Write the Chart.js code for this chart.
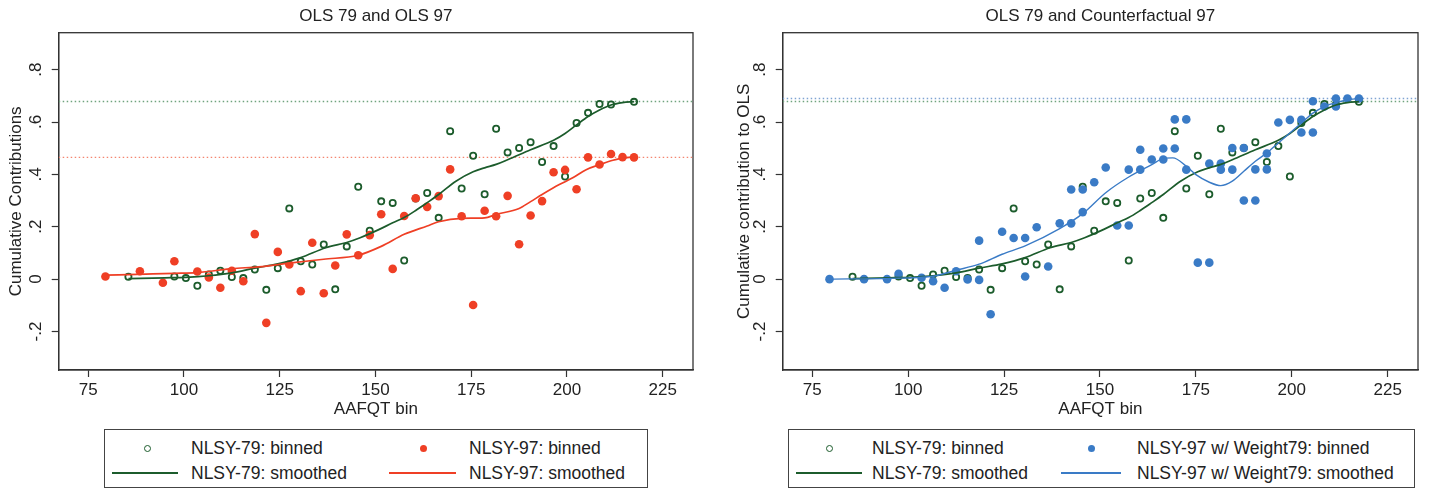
<!DOCTYPE html>
<html>
<head>
<meta charset="utf-8">
<script src="https://cdn.jsdelivr.net/npm/chart.js@4.4.1/dist/chart.umd.min.js"></script>
<style>
  html, body { margin: 0; padding: 0; background: #fff; }
  body { width: 1429px; height: 492px; position: relative; overflow: hidden;
         font-family: "Liberation Sans", Arial, sans-serif; color: #222; }
  canvas { position: absolute; top: 0; }
  #c1 { left: 0; }
  #c2 { left: 715px; }
  .legend { position: absolute; border: 1px solid #444; box-sizing: border-box; }
  .txt { position: absolute; font-size: 17.5px; line-height: 20px; white-space: nowrap; color: #222; }
  .sw { position: absolute; box-sizing: border-box; }
</style>
</head>
<body>
<canvas id="c1" width="715" height="420"></canvas>
<canvas id="c2" width="714" height="420"></canvas>

<div class="legend" style="left:104px;top:429px;width:544px;height:59px;">
  <div class="sw" style="left:39px;top:15px;width:7px;height:7px;border:1.6px solid #1c5c2c;border-radius:50%;"></div>
  <div class="txt" style="left:86px;top:8px;">NLSY-79: binned</div>
  <div class="sw" style="left:315px;top:15px;width:7px;height:7px;background:#ef3f25;border-radius:50%;"></div>
  <div class="txt" style="left:364px;top:8px;">NLSY-97: binned</div>
  <div class="sw" style="left:7px;top:42px;width:66px;height:2px;background:#1c5c2c;"></div>
  <div class="txt" style="left:86px;top:33px;">NLSY-79: smoothed</div>
  <div class="sw" style="left:284px;top:42px;width:67px;height:2px;background:#ef3f25;"></div>
  <div class="txt" style="left:364px;top:33px;">NLSY-97: smoothed</div>
</div>

<div class="legend" style="left:788px;top:429px;width:627px;height:59px;">
  <div class="sw" style="left:37px;top:15px;width:7px;height:7px;border:1.6px solid #1c5c2c;border-radius:50%;"></div>
  <div class="txt" style="left:83px;top:8px;">NLSY-79: binned</div>
  <div class="sw" style="left:299px;top:15px;width:7px;height:7px;background:#3a7bc6;border-radius:50%;"></div>
  <div class="txt" style="left:348px;top:8px;">NLSY-97 w/ Weight79: binned</div>
  <div class="sw" style="left:7px;top:42px;width:66px;height:2px;background:#1c5c2c;"></div>
  <div class="txt" style="left:83px;top:33px;">NLSY-79: smoothed</div>
  <div class="sw" style="left:272px;top:42px;width:60px;height:1.6px;background:#3a7bc6;"></div>
  <div class="txt" style="left:348px;top:33px;">NLSY-97 w/ Weight79: smoothed</div>
</div>

<script>
// ---- axis ticks ----
const xTicks = [75, 100, 125, 150, 175, 200, 225];
const yTicks = [-0.2, 0, 0.2, 0.4, 0.6, 0.8];
const yTickLabels = ["-.2", "0", ".2", ".4", ".6", ".8"];
const xRange = [67.3, 232.9];
const yRange = [-0.347, 0.941];

// ---- NLSY-79 binned cumulative contributions ----
const bins79 = [85.5, 97.5, 100.5, 103.5, 106.5, 109.5, 112.5, 115.5, 118.5, 121.5, 124.5, 127.5,
  130.5, 133.5, 136.5, 139.5, 142.5, 145.5, 148.5, 151.5, 154.5, 157.5, 160.5, 163.5, 166.5, 169.5,
  172.5, 175.5, 178.5, 181.5, 184.5, 187.5, 190.5, 193.5, 196.5, 199.5, 202.5, 205.5, 208.5, 211.5, 217.5];
const binned79 = [0.009, 0.010, 0.004, -0.025, 0.018, 0.032, 0.008, 0.004, 0.037, -0.041, 0.042, 0.270,
  0.068, 0.056, 0.132, -0.039, 0.125, 0.353, 0.185, 0.297, 0.291, 0.071, 0.308, 0.329, 0.234, 0.565,
  0.346, 0.471, 0.324, 0.574, 0.484, 0.501, 0.523, 0.447, 0.508, 0.392, 0.596, 0.635, 0.669, 0.667, 0.677];

// ---- NLSY-97 binned ----
const bins97 = [79.5, 88.5, 94.5, 97.5, 103.5, 106.5, 109.5, 112.5, 115.5, 118.5, 121.5, 124.5, 127.5,
  130.5, 133.5, 136.5, 139.5, 142.5, 145.5, 148.5, 151.5, 154.5, 157.5, 160.5, 163.5, 166.5, 169.5,
  172.5, 175.5, 178.5, 181.5, 184.5, 187.5, 190.5, 193.5, 196.5, 199.5, 202.5, 205.5, 208.5, 211.5, 214.5, 217.5];
const binned97 = [0.010, 0.030, -0.014, 0.068, 0.029, 0.006, -0.033, 0.032, -0.008, 0.172, -0.167, 0.104, 0.056,
  -0.046, 0.139, -0.054, 0.052, 0.171, 0.091, 0.168, 0.248, 0.039, 0.241, 0.309, 0.276, 0.317, 0.419,
  0.240, -0.099, 0.261, 0.240, 0.318, 0.133, 0.243, 0.298, 0.408, 0.417, 0.343, 0.465, 0.438, 0.478, 0.466, 0.465];

// ---- NLSY-97 reweighted with 79 weights, binned ----
const binsW = [79.5, 88.5, 94.5, 97.5, 103.5, 106.5, 109.5, 112.5, 115.5, 118.5, 118.5, 121.5, 124.5, 127.5,
  130.5, 130.5, 133.5, 136.5, 139.5, 142.5, 142.5, 145.5, 145.5, 148.5, 151.5, 154.5, 157.5, 157.5, 160.5,
  160.5, 163.5, 166.5, 166.5, 169.5, 169.5, 172.5, 172.5, 175.5, 178.5, 178.5, 181.5, 181.5, 184.5, 184.5,
  187.5, 187.5, 190.5, 190.5, 193.5, 193.5, 196.5, 199.5, 202.5, 202.5, 205.5, 205.5, 208.5, 211.5, 211.5, 214.5, 217.5];
const binnedW = [0.000, 0.000, 0.000, 0.020, 0.005, -0.008, -0.033, 0.030, -0.001, -0.003, 0.147, -0.134, 0.181, 0.157,
  0.157, 0.010, 0.198, 0.048, 0.213, 0.213, 0.342, 0.256, 0.342, 0.370, 0.426, 0.205, 0.205, 0.418, 0.494,
  0.418, 0.457, 0.499, 0.457, 0.610, 0.499, 0.610, 0.418, 0.063, 0.441, 0.063, 0.441, 0.418, 0.501, 0.418,
  0.501, 0.300, 0.419, 0.300, 0.480, 0.419, 0.598, 0.608, 0.608, 0.560, 0.560, 0.679, 0.659, 0.690, 0.659, 0.690, 0.690];

// ---- smoothed curves ----
const smooth79X = [85.5, 95, 100.5, 106.5, 112.5, 118.5, 124.5, 130.5, 137, 142.5, 146, 151, 154.5, 157.5, 160.5,
  163.5, 166.5, 171, 175.5, 178.5, 181.5, 184.5, 190.5, 196.5, 199.5, 202.5, 205.5, 208.5, 211.5, 214.5, 217.5];
const smooth79Y = [0.002, 0.005, 0.007, 0.013, 0.024, 0.042, 0.058, 0.082, 0.120, 0.140, 0.158, 0.190, 0.215, 0.235, 0.262,
  0.292, 0.323, 0.374, 0.410, 0.425, 0.438, 0.456, 0.494, 0.530, 0.556, 0.589, 0.621, 0.646, 0.665, 0.674, 0.678];

const smooth97X = [79.5, 90, 97.5, 103.5, 112.5, 119.5, 127.5, 136.5, 145.5, 151.5, 157.5, 163.5, 166.5, 172.5,
  178.5, 181.5, 187.5, 190.5, 193.5, 198, 201.5, 205, 208.5, 212, 217.5];
const smooth97Y = [0.015, 0.019, 0.022, 0.025, 0.040, 0.047, 0.061, 0.076, 0.091, 0.125, 0.171, 0.203, 0.219, 0.232,
  0.234, 0.247, 0.270, 0.296, 0.323, 0.361, 0.387, 0.418, 0.437, 0.454, 0.468];

const smoothWX = [79.5, 95, 106, 112.5, 118.5, 124.5, 130.5, 139.5, 145.5, 151.5, 157.5, 163.5, 166.8, 169, 172.5,
  175, 178.5, 181.5, 184.5, 187.5, 190.5, 193.5, 196.5, 199.5, 202.5, 205.5, 208.5, 211.5, 214.5, 217.5];
const smoothWY = [0.000, 0.003, 0.010, 0.034, 0.057, 0.095, 0.127, 0.193, 0.250, 0.330, 0.390, 0.437, 0.462, 0.463, 0.431,
  0.399, 0.370, 0.357, 0.374, 0.412, 0.450, 0.482, 0.520, 0.558, 0.596, 0.634, 0.659, 0.674, 0.684, 0.690];

// ---- OLS reference levels ----
const ols79 = 0.678;
const ols97 = 0.465;
const olsW = 0.690;

// ---- styling ----
const GREEN = '#1c5c2c', RED = '#ef3f25', BLUE = '#3a7bc6', INK = '#222', AXIS = '#333';
const FONT = { family: '"Liberation Sans", Arial, sans-serif', size: 17, weight: 'normal' };

const pts = (xs, ys) => xs.map((x, i) => ({ x, y: ys[i] }));

function hollowPoints(xs, ys, color) {
  return { type: 'scatter', data: pts(xs, ys), showLine: false, pointStyle: 'circle',
    pointRadius: 3.1, pointBorderWidth: 1.8, pointBorderColor: color,
    pointBackgroundColor: 'rgba(0,0,0,0)', pointHoverRadius: 3.1 };
}
function solidPoints(xs, ys, color) {
  return { type: 'scatter', data: pts(xs, ys), showLine: false, pointStyle: 'circle',
    pointRadius: 4.3, pointBorderWidth: 0, pointBackgroundColor: color, pointHoverRadius: 4.3 };
}
function curve(xs, ys, color, w) {
  return { type: 'line', data: pts(xs, ys), borderColor: color, borderWidth: w,
    pointRadius: 0, fill: false, cubicInterpolationMode: 'monotone' };
}
function refLine(v, color) {
  return { type: 'line', data: [{ x: xRange[0], y: v }, { x: xRange[1], y: v }],
    borderColor: color, borderWidth: 1.4, borderDash: [1.5, 2.5], pointRadius: 0, fill: false };
}

// outline around the plot region
const frame = {
  id: 'frame',
  beforeDatasetsDraw(chart) {
    const { ctx, chartArea: a } = chart;
    ctx.save();
    ctx.strokeStyle = AXIS;
    ctx.lineWidth = 1.3;
    ctx.strokeRect(a.left, a.top, a.right - a.left, a.bottom - a.top);
    ctx.restore();
  }
};

function build(canvas, opt) {
  return new Chart(canvas, {
    type: 'scatter',
    data: { datasets: opt.datasets },
    plugins: [frame],
    options: {
      responsive: false,
      animation: false,
      devicePixelRatio: 1,
      layout: { padding: { left: 0, right: opt.padRight, top: 0, bottom: 0 } },
      plugins: {
        legend: { display: false },
        tooltip: { enabled: false },
        title: { display: true, text: opt.title, color: INK, font: FONT,
                 fullSize: false, padding: { top: 6, bottom: 6.3 } }
      },
      scales: {
        x: {
          type: 'linear', min: xRange[0], max: xRange[1],
          afterBuildTicks: s => { s.ticks = xTicks.map(v => ({ value: v })); },
          afterFit: s => { s.height = 50; },
          ticks: { color: INK, font: FONT, padding: 3, maxRotation: 0, autoSkip: false },
          grid: { display: true, drawOnChartArea: false, drawTicks: true, tickLength: 7,
                  tickWidth: 1.2, tickColor: AXIS },
          border: { display: true, color: AXIS, width: 1.3 },
          title: { display: true, text: 'AAFQT bin', color: INK, font: FONT, padding: { top: 0, bottom: 0 } }
        },
        y: {
          type: 'linear', min: yRange[0], max: yRange[1],
          afterBuildTicks: s => { s.ticks = yTicks.map(v => ({ value: v })); },
          afterFit: s => { s.width = opt.yWidth; },
          ticks: { color: INK, font: FONT, padding: opt.yTickPad, minRotation: 90, maxRotation: 90,
                   crossAlign: 'center', autoSkip: false,
                   callback: (v, i) => yTickLabels[i] },
          grid: { display: true, drawOnChartArea: false, drawTicks: true, tickLength: 7,
                  tickWidth: 1.2, tickColor: AXIS },
          border: { display: true, color: AXIS, width: 1.3 },
          title: { display: true, text: opt.yTitle, color: INK, font: FONT,
                   padding: { top: opt.yTitlePad, bottom: 0 } }
        }
      }
    }
  });
}

// first dataset in the list is drawn on top
build(document.getElementById('c1'), {
  title: 'OLS 79 and OLS 97',
  yTitle: 'Cumulative Contributions',
  yWidth: 58.7, yTickPad: 5, yTitlePad: 6.5, padRight: 22,
  datasets: [
    curve(smooth97X, smooth97Y, RED, 1.7),
    curve(smooth79X, smooth79Y, GREEN, 1.7),
    solidPoints(bins97, binned97, RED),
    hollowPoints(bins79, binned79, GREEN),
    refLine(ols79, '#6fa37e'),
    refLine(ols97, '#f4856f')
  ]
});

build(document.getElementById('c2'), {
  title: 'OLS 79 and Counterfactual 97',
  yTitle: 'Cumulative contribution to OLS',
  yWidth: 67.7, yTickPad: 5, yTitlePad: 19, padRight: 11,
  datasets: [
    curve(smoothWX, smoothWY, BLUE, 1.4),
    curve(smooth79X, smooth79Y, GREEN, 1.7),
    solidPoints(binsW, binnedW, BLUE),
    hollowPoints(bins79, binned79, GREEN),
    refLine(ols79, '#6fa37e'),
    refLine(olsW, '#7fa3d2')
  ]
});
</script>
</body>
</html>
